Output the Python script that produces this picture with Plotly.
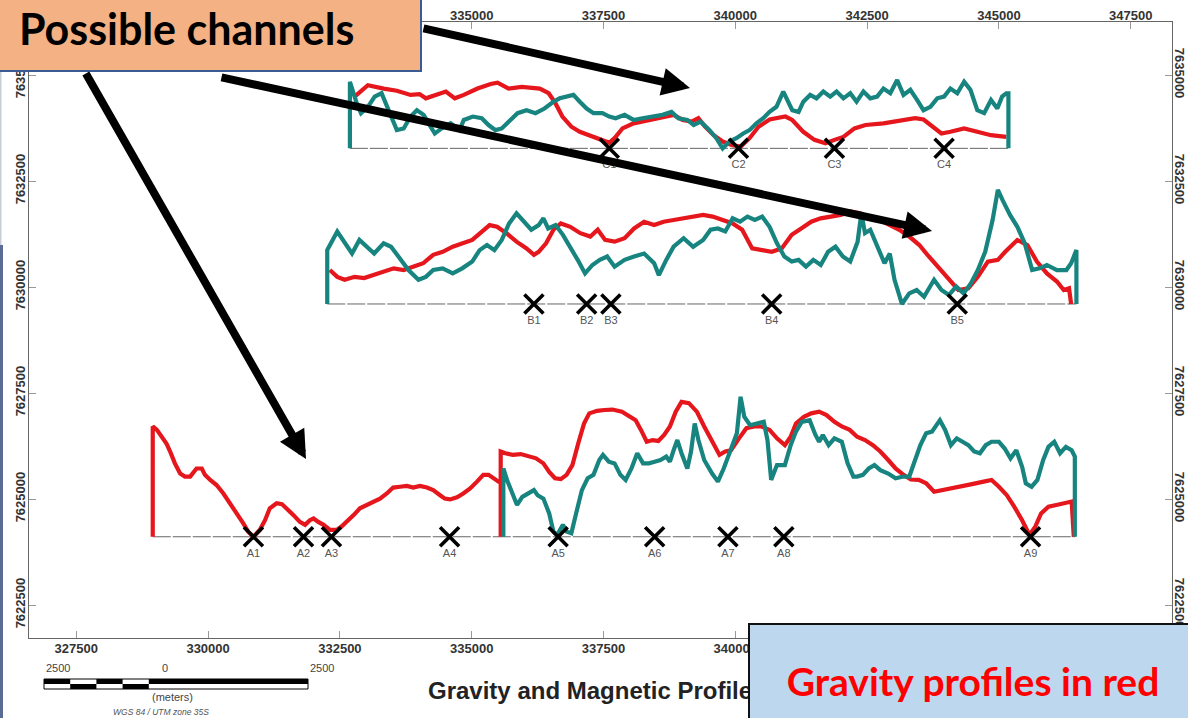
import plotly.graph_objects as go

# ---------------- map frame (UTM zone 35S, metres) ----------------
E_RANGE = [326603, 348283]
N_RANGE = [7621722, 7636250]
EASTING_TICKS = [327500, 330000, 332500, 335000, 337500, 340000, 342500, 345000, 347500]
NORTHING_TICKS = [7622500, 7625000, 7627500, 7630000, 7632500, 7635000]
TOP_LABEL_FROM = 335000  # top-edge labels west of this sit under the callout box

# northing of each profile's zero line
BASE_A = 7624110
BASE_B = 7629600
BASE_C = 7633270

# ---------------- profile C ----------------
C_grav_e = [332780, 333030, 333330, 333580, 333840, 334010, 334130, 334340, 334510, 334680,
            334850, 335110, 335360, 335490, 335700, 335950, 336290, 336460, 336590, 336720,
            336890, 337050, 337310, 337480, 337610, 337730, 337860, 338070, 338410, 338660,
            338830, 339000, 339170, 339300, 339430, 339590, 339760, 339930, 340100, 340270,
            340440, 340650, 340950, 341080, 341290, 341500, 341710, 341880, 342050, 342260,
            342470, 342810, 343150, 343410, 343570, 343740, 343910, 344080, 344340, 344590,
            344850, 345140]
C_grav_d = [1220, 1490, 1410, 1360, 1260, 1280, 1180, 1280, 1340, 1180,
            1260, 1410, 1520, 1550, 1410, 1450, 1410, 1300, 1060, 750,
            510, 390, 270, 200, 130, 270, 470, 590, 680, 760,
            790, 670, 630, 710, 510, 310, 160, 80, 40, 240,
            510, 680, 750, 670, 390, 200, 120, 200, 270, 470,
            550, 590, 670, 710, 680, 510, 350, 390, 470, 390,
            310, 270]
C_mag_e = [332690, 332690, 332820, 332900, 333030, 333160, 333290, 333370, 333500, 333580,
           333710, 333840, 333960, 334090, 334220, 334300, 334430, 334600, 334770, 334850,
           335020, 335190, 335320, 335450, 335570, 335700, 335870, 336040, 336210, 336380,
           336550, 336670, 336800, 336930, 337050, 337180, 337310, 337480, 337610, 337730,
           337900, 338070, 338240, 338410, 338620, 338790, 338920, 339090, 339210, 339340,
           339510, 339640, 339760, 339890, 340020, 340150, 340270, 340400, 340530, 340650,
           340780, 340910, 340990, 341080, 341200, 341290, 341420, 341540, 341670, 341800,
           341920, 342050, 342180, 342300, 342430, 342560, 342690, 342810, 342940, 343070,
           343190, 343320, 343450, 343570, 343700, 343830, 343960, 344080, 344210, 344340,
           344460, 344590, 344720, 344850, 344970, 345060, 345140, 345180, 345180]
C_mag_d = [0, 1570, 1060, 830, 980, 1220, 1300, 1060, 670, 430,
           470, 750, 900, 790, 510, 350, 470, 590, 430, 670,
           750, 710, 550, 430, 470, 630, 830, 900, 830, 940,
           1100, 1180, 1220, 1260, 1100, 940, 830, 830, 750, 710,
           790, 670, 710, 750, 790, 860, 710, 670, 550, 630,
           430, 240, 0, 160, 240, 350, 430, 590, 710, 860,
           980, 1340, 1140, 900, 860, 1100, 1260, 1180, 1340, 1220,
           1340, 1180, 1300, 1100, 1340, 1180, 1220, 1410, 1300, 1610,
           1260, 1380, 1140, 900, 980, 1180, 1220, 1410, 1300, 1570,
           1380, 900, 830, 1140, 940, 1220, 1300, 1300, 0]
C_line = [332690, 345180]
C_sites = ["C1", "C2", "C3", "C4"]
C_sites_e = [337610, 340060, 341880, 343960]

# ---------------- profile B ----------------
B_grav_e = [332310, 332450, 332590, 332780, 332960, 333150, 333330, 333520, 333710, 333890,
            334080, 334270, 334450, 334640, 334820, 335010, 335200, 335340, 335480, 335660,
            335850, 336040, 336180, 336270, 336410, 336550, 336690, 336870, 337060, 337250,
            337390, 337530, 337710, 337900, 338080, 338270, 338460, 338640, 338830, 339020,
            339200, 339390, 339570, 339760, 339950, 340130, 340320, 340510, 340690, 340880,
            341070, 341250, 341440, 341620, 341810, 342000, 342180, 342370, 342560, 342740,
            342930, 343110, 343300, 343490, 343670, 343860, 344050, 344230, 344420, 344600,
            344790, 344980, 345120, 345350, 345540, 345720, 345910, 346100, 346230, 346330,
            346370]
B_grav_d = [800, 640, 570, 640, 610, 680, 760, 840, 800, 880,
            960, 1160, 1230, 1350, 1430, 1510, 1710, 1860, 1820, 1670,
            1470, 1310, 1160, 1230, 1430, 1750, 1900, 1820, 1670, 1590,
            1750, 1510, 1470, 1550, 1780, 1940, 1860, 1940, 1980, 2020,
            2060, 2100, 2060, 1980, 1900, 1750, 1310, 1270, 1230, 1310,
            1630, 1780, 1940, 2020, 2060, 2100, 2180, 2140, 2020, 1980,
            1860, 1750, 1590, 1390, 1120, 840, 570, 330, 370, 640,
            1000, 1040, 1230, 1510, 1390, 1000, 720, 530, 330, 370,
            0]
B_mag_e = [332260, 332260, 332450, 332590, 332730, 332870, 333010, 333150, 333330, 333470,
           333610, 333800, 333990, 334130, 334270, 334450, 334640, 334820, 335010, 335150,
           335290, 335430, 335570, 335710, 335850, 335990, 336130, 336270, 336360, 336450,
           336590, 336730, 336870, 337010, 337150, 337290, 337430, 337570, 337710, 337900,
           338080, 338270, 338460, 338550, 338690, 338830, 339020, 339200, 339390, 339530,
           339670, 339810, 339950, 340090, 340230, 340370, 340510, 340650, 340790, 340930,
           341070, 341200, 341340, 341480, 341620, 341760, 341900, 342040, 342180, 342320,
           342390, 342460, 342560, 342700, 342830, 342930, 343020, 343160, 343300, 343440,
           343580, 343770, 343910, 344050, 344190, 344330, 344470, 344600, 344740, 344880,
           344980, 345070, 345210, 345350, 345490, 345630, 345770, 345910, 346100, 346280,
           346370, 346470, 346470]
B_mag_d = [0, 1270, 1710, 1430, 1190, 1510, 1350, 1190, 1430, 1350,
           1120, 800, 570, 640, 800, 840, 720, 840, 1000, 1270,
           1390, 1270, 1510, 1900, 2140, 1940, 1750, 1860, 2020, 1780,
           1860, 1630, 1350, 1040, 720, 920, 1040, 1120, 880, 1040,
           1120, 1190, 960, 680, 1040, 1350, 1550, 1350, 1510, 1750,
           1780, 1710, 2020, 1940, 2060, 1980, 2060, 1820, 1430, 1120,
           1000, 1040, 880, 1040, 920, 1230, 1350, 1120, 1000, 1470,
           2140, 1670, 1750, 1350, 960, 1190, 570, 0, 250, 330,
           170, 570, 330, 210, 410, 250, 490, 800, 1230, 1980,
           2690, 2450, 2100, 1820, 1430, 800, 840, 920, 800, 800,
           960, 1270, 0]
B_line = [332260, 346470]
B_sites = ["B1", "B2", "B3", "B4", "B5"]
B_sites_e = [336180, 337180, 337640, 340690, 344210]

# ---------------- profile A (western and eastern legs) ----------------
A_west_grav_e = [328950, 328950, 329030, 329120, 329210, 329280, 329370, 329470, 329560, 329660,
                 329720, 329780, 329880, 329940, 330040, 330160, 330290, 330420, 330540, 330670,
                 330760, 330860, 330980, 331080, 331170, 331300, 331400, 331490, 331620, 331740,
                 331840, 331930, 332000, 332090, 332190, 332310, 332440, 332530, 332630, 332760,
                 332880, 333010, 333130, 333260, 333390, 333510, 333640, 333770, 333890, 334020,
                 334150, 334270, 334400, 334490, 334590, 334720, 334840, 334970, 335100, 335220,
                 335320, 335410, 335510, 335550]
A_west_grav_d = [0, 2600, 2520, 2360, 2200, 2010, 1730, 1490, 1420, 1420,
                 1530, 1610, 1610, 1460, 1340, 1220, 1020, 790, 550, 310,
                 120, 0, 160, 390, 670, 790, 770, 670, 510, 350,
                 280, 390, 430, 350, 280, 160, 160, 240, 350, 510,
                 670, 750, 830, 900, 1020, 1160, 1180, 1200, 1160, 1200,
                 1160, 1100, 980, 900, 880, 930, 1020, 1140, 1300, 1460,
                 1460, 1380, 1300, 1300]
A_east_grav_e = [335550, 335550, 335640, 335780, 335930, 336070, 336220, 336360, 336470, 336580,
                 336690, 336800, 336910, 337020, 337130, 337230, 337380, 337520, 337670, 337850,
                 337960, 338110, 338210, 338320, 338430, 338540, 338650, 338760, 338870, 338980,
                 339120, 339270, 339410, 339560, 339700, 339810, 339920, 340070, 340210, 340360,
                 340500, 340650, 340790, 340940, 341050, 341150, 341300, 341440, 341590, 341730,
                 341880, 342020, 342170, 342310, 342460, 342610, 342750, 342900, 343040, 343190,
                 343330, 343480, 343620, 343770, 343910, 344060, 344270, 344490, 344710, 344860,
                 345000, 345150, 345290, 345440, 345580, 345690, 345800, 345940, 346090, 346230,
                 346380, 346420]
A_east_grav_d = [0, 2010, 1970, 1930, 1950, 1890, 1850, 1730, 1530, 1380,
                 1360, 1460, 1690, 2200, 2670, 2910, 2970, 2990, 3000, 2950,
                 2870, 2750, 2520, 2240, 2280, 2260, 2400, 2600, 2950, 3180,
                 3150, 2950, 2600, 2240, 1930, 2010, 2040, 2320, 2560, 2600,
                 2600, 2520, 2320, 2160, 2360, 2670, 2830, 2910, 2950, 2870,
                 2710, 2600, 2520, 2360, 2280, 2160, 2010, 1810, 1610, 1460,
                 1350, 1340, 1260, 1060, 1100, 1140, 1200, 1240, 1300, 1340,
                 1180, 980, 710, 390, 40, 240, 550, 710, 750, 790,
                 830, 0]
A_east_mag_e = [335600, 335600, 335670, 335780, 335860, 335960, 336070, 336180, 336250, 336360,
                336470, 336550, 336620, 336730, 336800, 336890, 336980, 337090, 337200, 337310,
                337420, 337490, 337600, 337710, 337820, 337920, 338030, 338140, 338250, 338360,
                338470, 338580, 338690, 338760, 338830, 338900, 338980, 339090, 339160, 339230,
                339300, 339410, 339560, 339670, 339780, 339920, 340030, 340100, 340170, 340280,
                340430, 340540, 340610, 340680, 340790, 340940, 341050, 341150, 341260, 341410,
                341520, 341590, 341660, 341770, 341880, 342020, 342130, 342240, 342310, 342420,
                342530, 342640, 342750, 342900, 343040, 343190, 343300, 343400, 343510, 343620,
                343730, 343880, 343980, 344090, 344200, 344310, 344420, 344530, 344640, 344750,
                344860, 345000, 345110, 345220, 345330, 345440, 345510, 345620, 345730, 345840,
                345940, 346050, 346160, 346270, 346380, 346440, 346440]
A_east_mag_d = [0, 1610, 1340, 980, 750, 940, 1020, 1100, 980, 900,
                550, 120, 40, 280, 120, 80, 550, 1100, 1380, 1460,
                1810, 1930, 1770, 1730, 1460, 1340, 1610, 1970, 1730, 1730,
                1770, 1810, 1890, 1770, 2040, 2280, 1970, 1610, 2010, 2670,
                2280, 1810, 1490, 1300, 1610, 2040, 2440, 3300, 2830, 2630,
                2670, 2710, 2280, 1340, 1690, 1690, 2160, 2480, 2710, 2750,
                2400, 2240, 2400, 2160, 2320, 2240, 1730, 1420, 1420, 1460,
                1610, 1690, 1570, 1490, 1380, 1420, 1420, 1810, 2160, 2440,
                2480, 2750, 2520, 2160, 2320, 2240, 2160, 2010, 1970, 2160,
                2240, 2240, 2080, 1850, 2040, 1650, 1260, 1180, 1340, 1810,
                2120, 2240, 1970, 2120, 2040, 1890, 0]
A_line = [328950, 346440]
A_sites = ["A1", "A2", "A3", "A4", "A5", "A6", "A7", "A8", "A9"]
A_sites_e = [330860, 331810, 332340, 334580, 336640, 338470, 339860, 340920, 345600]

GRAV_RED = "#e5161c"
MAG_TEAL = "#17847f"

# ---------------- page geometry for decorations ----------------
W, H = 1188, 718
ML, MR, MT, MB = 29, 16, 22, 80
PW, PH = W - ML - MR, H - MT - MB


def px(x):
    return (x - ML) / PW


def py(y):
    return (H - MB - y) / PH


fig = go.Figure()


def add_profile(base, line_e, curves, sites, sites_e):
    fig.add_trace(go.Scatter(x=line_e, y=[base, base], mode="lines",
                             line=dict(color="#666666", width=1, dash="18px,2px"),
                             hoverinfo="skip"))
    for e_vals, d_vals, col in curves:
        fig.add_trace(go.Scatter(x=e_vals, y=[base + d for d in d_vals], mode="lines",
                                 line=dict(color=col, width=4.2), hoverinfo="skip"))
    # site names just below the crosses (invisible marker sets the gap)
    fig.add_trace(go.Scatter(
        x=sites_e, y=[base] * len(sites_e), mode="markers+text", text=sites,
        textposition="bottom center",
        marker=dict(size=17, color="rgba(0,0,0,0)"),
        textfont=dict(family="Liberation Sans, Arial", size=11, color="#555555"),
        hoverinfo="skip"))
    # crosses on the zero line
    fig.add_trace(go.Scatter(
        x=sites_e, y=[base] * len(sites_e), mode="markers",
        marker=dict(symbol="x-thin", size=19, line=dict(color="black", width=3.6)),
        hoverinfo="skip"))


add_profile(BASE_C, C_line, [(C_grav_e, C_grav_d, GRAV_RED), (C_mag_e, C_mag_d, MAG_TEAL)],
            C_sites, C_sites_e)
add_profile(BASE_B, B_line, [(B_grav_e, B_grav_d, GRAV_RED), (B_mag_e, B_mag_d, MAG_TEAL)],
            B_sites, B_sites_e)
add_profile(BASE_A, A_line, [(A_west_grav_e, A_west_grav_d, GRAV_RED),
                             (A_east_grav_e, A_east_grav_d, GRAV_RED),
                             (A_east_mag_e, A_east_mag_d, MAG_TEAL)],
            A_sites, A_sites_e)

# empty trace so the mirrored top/right axes are drawn
fig.add_trace(go.Scatter(x=[], y=[], xaxis="x2", yaxis="y2", hoverinfo="skip"))

tick_font = dict(family="Liberation Sans, Arial", size=13, color="#333333")
axis_common = dict(showgrid=False, zeroline=False, showline=True, linecolor="#666666",
                   linewidth=1, ticks="inside", ticklen=7, tickcolor="#999999",
                   tickfont=tick_font)
e_labels = [f"<b>{v}</b>" for v in EASTING_TICKS]
e_labels_top = [f"<b>{v}</b>" if v >= TOP_LABEL_FROM else "" for v in EASTING_TICKS]
n_labels = [f"<b>{v}</b>" for v in NORTHING_TICKS]

fig.update_layout(
    width=W, height=H,
    margin=dict(l=ML, r=MR, t=MT, b=MB, autoexpand=False),
    paper_bgcolor="white", plot_bgcolor="white",
    showlegend=False,
    xaxis=dict(range=E_RANGE, tickvals=EASTING_TICKS, ticktext=e_labels, side="bottom",
               ticklabelstandoff=-2, **axis_common),
    xaxis2=dict(range=E_RANGE, tickvals=EASTING_TICKS, ticktext=e_labels_top, side="top",
                overlaying="x", ticklabelstandoff=-4, **axis_common),
    yaxis=dict(range=N_RANGE, tickvals=NORTHING_TICKS, ticktext=n_labels, side="left",
               tickangle=-90, ticklabelstandoff=-2, **axis_common),
    yaxis2=dict(range=N_RANGE, tickvals=NORTHING_TICKS, ticktext=n_labels, side="right",
                overlaying="y", tickangle=90, ticklabelstandoff=-3, **axis_common),
)

shapes = []
# slide edge on the left
shapes.append(dict(type="rect", xref="paper", yref="paper", x0=px(-1), x1=px(1.5),
                   y0=py(245), y1=py(71), fillcolor="#c8ccd6", line=dict(width=0),
                   layer="above"))
shapes.append(dict(type="rect", xref="paper", yref="paper", x0=px(-1), x1=px(3),
                   y0=py(720), y1=py(245), fillcolor="#5a6b94", line=dict(width=0),
                   layer="above"))
# callout box, top left
shapes.append(dict(type="rect", xref="paper", yref="paper", x0=px(-4), x1=px(421),
                   y0=py(71), y1=py(-4), fillcolor="#F4B183",
                   line=dict(color="#3b5b94", width=2), layer="above"))

# scale bar
bar_l, bar_mid, bar_r = 44, 175, 308
bar_top, bar_midy, bar_bot = 679, 684, 689
seg = (bar_mid - bar_l) / 5
for i in range(5):
    x0 = bar_l + i * seg
    top = (i % 2 == 0)
    y0, y1 = (bar_top, bar_midy) if top else (bar_midy, bar_bot)
    shapes.append(dict(type="rect", xref="paper", yref="paper", x0=px(x0), x1=px(x0 + seg),
                       y0=py(y1), y1=py(y0), fillcolor="black", line=dict(width=0),
                       layer="above"))
shapes.append(dict(type="rect", xref="paper", yref="paper", x0=px(bar_mid), x1=px(bar_r),
                   y0=py(bar_midy), y1=py(bar_top), fillcolor="black", line=dict(width=0),
                   layer="above"))
shapes.append(dict(type="rect", xref="paper", yref="paper", x0=px(bar_l), x1=px(bar_r),
                   y0=py(bar_bot), y1=py(bar_top), fillcolor="rgba(0,0,0,0)",
                   line=dict(color="black", width=1), layer="above"))
fig.update_layout(shapes=shapes)

small = dict(family="Liberation Sans, Arial", size=11, color="#444444")
annotations = [
    dict(text="2500", x=px(44), y=py(668), xanchor="left", yanchor="middle", font=small),
    dict(text="0", x=px(160), y=py(668), xanchor="left", yanchor="middle", font=small),
    dict(text="2500", x=px(308), y=py(668), xanchor="left", yanchor="middle", font=small),
    dict(text="(meters)", x=px(172), y=py(697), xanchor="center", yanchor="middle", font=small),
    dict(text="<i>WGS 84 / UTM zone 35S</i>", x=px(161), y=py(712), xanchor="center",
         yanchor="middle", font=dict(family="Liberation Sans, Arial", size=8.5, color="#555555")),
    dict(text="<b>Gravity and Magnetic Profiles</b>", x=px(426), y=py(690), xanchor="left",
         yanchor="middle", font=dict(family="Liberation Sans, Arial", size=24, color="#222222")),
    # legend callout, bottom right (drawn over the title's tail)
    dict(text="<b>Gravity profiles in red</b>", x=px(748), y=py(623), xanchor="left",
         yanchor="top", width=446, height=112, align="center", valign="middle",
         bgcolor="#BDD7EE", bordercolor="#111111", borderwidth=2, borderpad=0,
         font=dict(family="Lato, Open Sans", size=39, color="#ff0000")),
    dict(text="<b>Possible channels</b>", x=px(17), y=py(1), xanchor="left",
         yanchor="top", font=dict(family="Lato, Open Sans", size=43, color="black")),
]

# pointer arrows from the callout
arrows = [((690, 88), (422, 28)), ((932, 231), (220, 77)), ((306, 459), (85, 72))]
for (tx, ty), (sx, sy) in arrows:
    annotations.append(dict(text="", x=px(tx), y=py(ty), xref="paper", yref="paper",
                            showarrow=True, ax=sx - tx, ay=sy - ty, arrowhead=2,
                            arrowsize=0.7, arrowwidth=8, arrowcolor="black", standoff=0,
                            startstandoff=0))
for a in annotations:
    a.setdefault("xref", "paper")
    a.setdefault("yref", "paper")
    a.setdefault("showarrow", False)
fig.update_layout(annotations=annotations)

fig.write_html("out.html")
